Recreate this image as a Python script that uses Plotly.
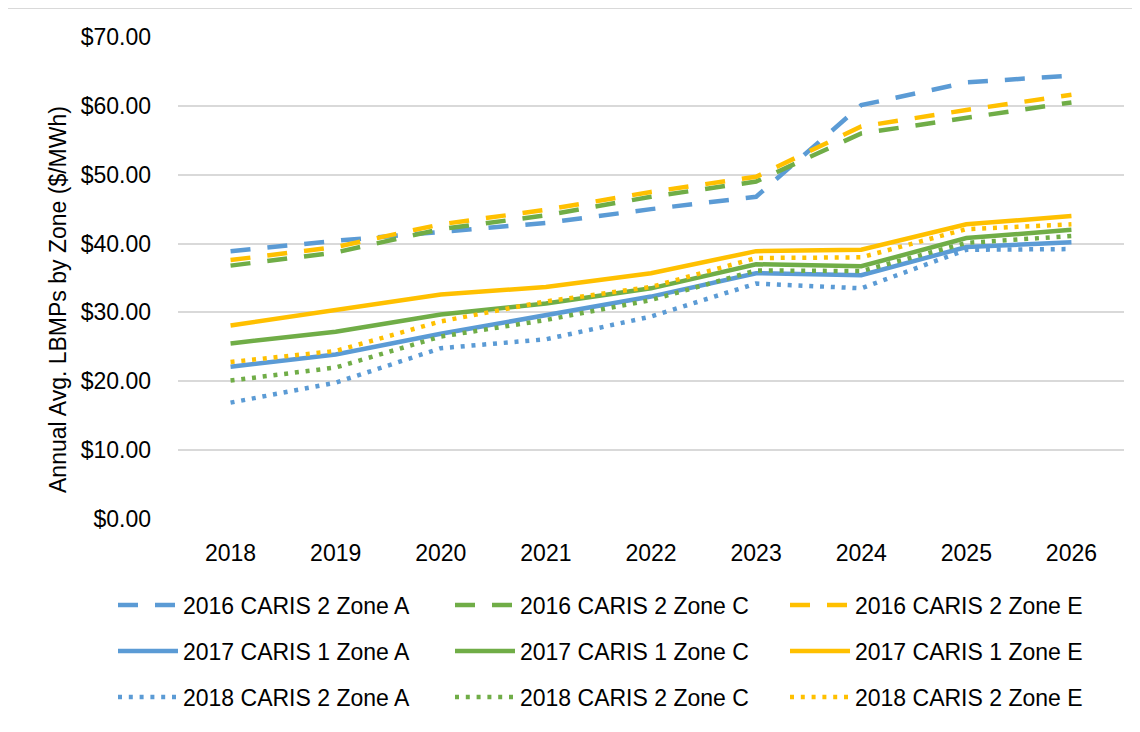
import plotly.graph_objects as go

years = ["2018", "2019", "2020", "2021", "2022", "2023", "2024", "2025", "2026"]

caris16_a = [38.9, 40.4, 41.7, 43.0, 45.0, 46.8, 60.1, 63.4, 64.4]
caris16_c = [36.8, 38.7, 42.1, 44.1, 46.8, 49.0, 56.0, 58.3, 60.5]
caris16_e = [37.6, 39.5, 42.8, 44.9, 47.5, 49.7, 57.0, 59.4, 61.6]
caris17_a = [22.1, 23.9, 26.9, 29.6, 32.3, 35.7, 35.4, 39.5, 40.2]
caris17_c = [25.5, 27.2, 29.7, 31.3, 33.5, 37.0, 36.7, 40.8, 42.0]
caris17_e = [28.1, 30.4, 32.6, 33.7, 35.7, 38.9, 39.1, 42.8, 44.0]
caris18_a = [16.9, 19.8, 24.8, 26.1, 29.4, 34.2, 33.5, 39.1, 39.2]
caris18_c = [20.1, 22.0, 26.5, 28.9, 31.8, 36.1, 36.0, 40.1, 41.1]
caris18_e = [22.8, 24.4, 28.7, 31.6, 33.7, 37.9, 38.0, 42.1, 42.8]

names = [
    "2016 CARIS 2 Zone A", "2016 CARIS 2 Zone C", "2016 CARIS 2 Zone E",
    "2017 CARIS 1 Zone A", "2017 CARIS 1 Zone C", "2017 CARIS 1 Zone E",
    "2018 CARIS 2 Zone A", "2018 CARIS 2 Zone C", "2018 CARIS 2 Zone E",
]
series = [caris16_a, caris16_c, caris16_e,
          caris17_a, caris17_c, caris17_e,
          caris18_a, caris18_c, caris18_e]

y_title = "Annual Avg. LBMPs by Zone ($/MWh)"

BLUE, GREEN, GOLD = "#5B9BD5", "#70AD47", "#FFC000"
colors = [BLUE, GREEN, GOLD] * 3
dashes = ["20px,17px"] * 3 + ["solid"] * 3 + ["4px,6.8px"] * 3

FONT = "Liberation Sans, Arial, sans-serif"

# page body has an 8px margin; figure is sized/offset to compensate
OFF = 8
W, H = 1140 - 2 * OFF, 732 - 2 * OFF
L, R, T, B = 178 - OFF, 1124 - OFF, 37 - OFF, 519 - OFF

def px2paper_x(px):
    return (px - OFF - L) / (R - L)

def px2paper_y(py):
    return (B - (py - OFF)) / (B - T)

# legend grid (screen px): text starts per column, row centres
col_text = [183, 520, 855]
row_y = [605, 651, 697]

fig = go.Figure()
legend_layouts = {}
for i, (nm, vals, c, d) in enumerate(zip(names, series, colors, dashes)):
    lid = "legend" if i == 0 else f"legend{i + 1}"
    fig.add_trace(go.Scatter(
        x=years, y=vals, name=nm, mode="lines",
        line=dict(color=c, width=4.5, dash=d),
        legend=lid,
    ))
    r, col = divmod(i, 3)
    legend_layouts[lid] = dict(
        orientation="h", xref="container", yref="container",
        x=(col_text[col] - 78) / W, xanchor="left",
        y=1 - (row_y[r] - OFF) / H, yanchor="middle",
        font=dict(family=FONT, size=23, color="#000000"),
        bgcolor="rgba(0,0,0,0)", itemwidth=60,
    )

fig.update_layout(
    width=W, height=H,
    margin=dict(l=L, r=W - R, t=T, b=H - B, pad=0, autoexpand=False),
    paper_bgcolor="white", plot_bgcolor="white",
    font=dict(family=FONT, size=23, color="#000000"),
    xaxis=dict(
        type="category", range=[-0.5, 8.5],
        showgrid=False, showline=False, zeroline=False,
        ticks="", tickfont=dict(family=FONT, size=23, color="#000000"),
        ticklabelstandoff=18, automargin=False,
    ),
    yaxis=dict(
        range=[0, 70], dtick=10, tickformat="$.2f",
        showgrid=True, gridcolor="#D9D9D9", gridwidth=1.5,
        zeroline=False, showline=False, ticks="",
        tickfont=dict(family=FONT, size=23, color="#000000"),
        ticklabelstandoff=26, automargin=False,
    ),
    showlegend=True,
    **legend_layouts,
)

# y-axis title, centred where the reference places it
fig.add_annotation(
    text=y_title, textangle=-90, showarrow=False,
    xref="paper", yref="paper",
    x=px2paper_x(58), y=px2paper_y(300), xanchor="center", yanchor="middle",
    font=dict(family=FONT, size=23, color="#000000"),
)

# outer chart border (top and left visible)
fig.add_shape(type="line", xref="paper", yref="paper",
              x0=px2paper_x(7), x1=px2paper_x(1140), y0=px2paper_y(8), y1=px2paper_y(8),
              line=dict(color="#D9D9D9", width=2), layer="below")
fig.add_shape(type="line", xref="paper", yref="paper",
              x0=px2paper_x(7), x1=px2paper_x(7), y0=px2paper_y(8), y1=px2paper_y(732),
              line=dict(color="#D9D9D9", width=2), layer="below")

fig.write_html("out.html")
